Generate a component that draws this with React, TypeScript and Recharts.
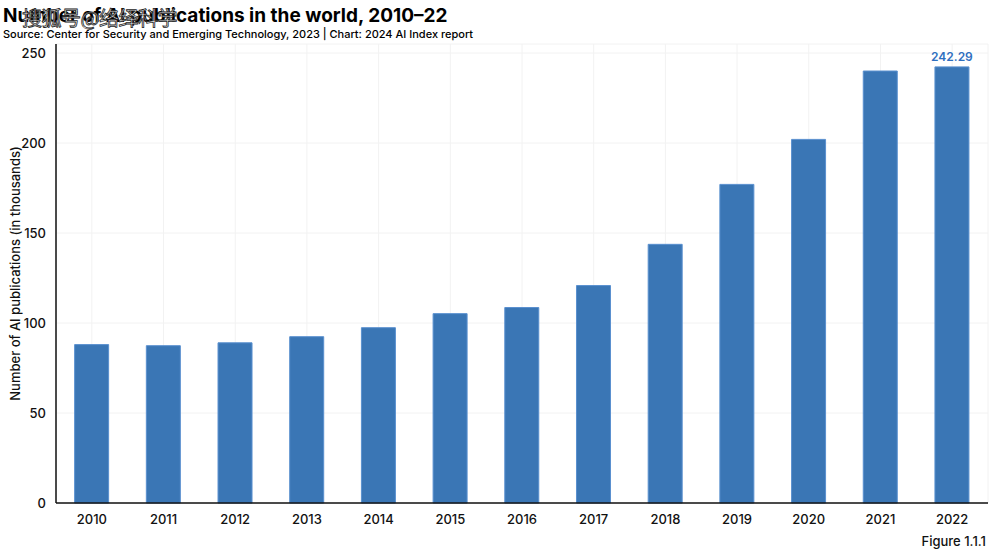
import { BarChart, Bar, XAxis, YAxis, CartesianGrid, LabelList } from 'recharts';

const years = ['2010', '2011', '2012', '2013', '2014', '2015', '2016', '2017', '2018', '2019', '2020', '2021', '2022'];
const publications = [88.0, 87.4, 89.0, 92.4, 97.4, 105.2, 108.6, 120.8, 143.7, 177.0, 202.0, 240.0, 242.29];
const yTicks = [0, 50, 100, 150, 200, 250];

const data = years.map((year, i) => ({ year, value: publications[i] }));

const FONT = 'Inter, "Noto Sans", sans-serif';

export default function App() {
  return (
    <div style={{ position: 'absolute', left: 0, top: 0, width: 1000, height: 557, background: '#fff', fontFamily: FONT }}>
      <BarChart
        width={1000}
        height={557}
        data={data}
        margin={{ top: 44, right: 12, left: 20, bottom: 24 }}
        barCategoryGap="26%"
      >
        <CartesianGrid stroke="#f2f2f2" strokeWidth={1} />
        <XAxis
          dataKey="year"
          height={30}
          tickLine={false}
          axisLine={{ stroke: '#111', strokeWidth: 1.5 }}
          tick={{ fill: '#111', fontSize: 13, fontFamily: FONT, fontWeight: 500 }}
          tickMargin={6}
        />
        <YAxis
          width={36}
          domain={[0, 255]}
          ticks={yTicks}
          tickLine={false}
          axisLine={{ stroke: '#111', strokeWidth: 1.5 }}
          tick={{ fill: '#111', fontSize: 13, fontFamily: FONT, fontWeight: 500 }}
          tickMargin={4}
          label={{
            value: 'Number of AI publications (in thousands)',
            angle: -90,
            position: 'insideLeft',
            dx: -10,
            style: { fill: '#111', fontSize: 13, fontFamily: FONT, fontWeight: 500, textAnchor: 'middle' },
          }}
        />
        <Bar dataKey="value" fill="#3a76b5" stroke="#5a90cf" strokeWidth={1} isAnimationActive={false}>
          <LabelList
            dataKey="value"
            position="top"
            offset={6}
            content={(props: any) => {
              const { x, y, width, index, value } = props;
              if (index !== years.length - 1) return null;
              return (
                <text x={x + width / 2} y={y - 6} textAnchor="middle" fill="#2f6fbf" fontSize={12} fontWeight={600} fontFamily={FONT}>
                  {value}
                </text>
              );
            }}
          />
        </Bar>
      </BarChart>
      <div style={{ position: 'absolute', left: 3, top: 4, fontSize: 19, fontWeight: 700, color: '#000', whiteSpace: 'nowrap' }}>
        Number of AI publications in the world, 2010–22
      </div>
      <div style={{ position: 'absolute', left: 3, top: 27, fontSize: 11, fontWeight: 500, color: '#000', whiteSpace: 'nowrap' }}>
        Source: Center for Security and Emerging Technology, 2023 | Chart: 2024 AI Index report
      </div>
      <div
        style={{
          position: 'absolute',
          left: 22,
          top: 3,
          fontSize: 20,
          fontFamily: '"Noto Sans CJK SC", sans-serif',
          color: '#fff',
          WebkitTextStroke: '0.8px #222',
          whiteSpace: 'nowrap',
          letterSpacing: -0.5,
        }}
      >
        搜狐号@络绎科学
      </div>
      <div style={{ position: 'absolute', right: 14, top: 533, fontSize: 13, fontWeight: 500, color: '#111' }}>
        Figure 1.1.1
      </div>
    </div>
  );
}
